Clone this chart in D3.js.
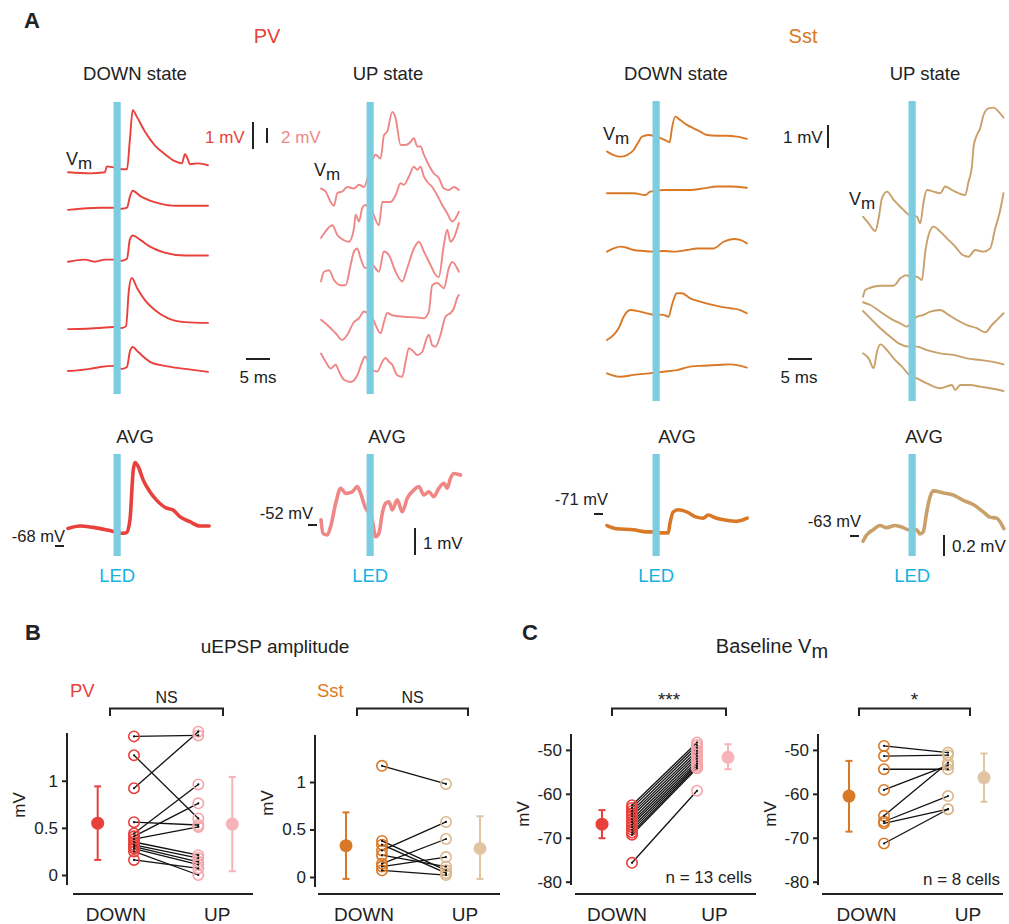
<!DOCTYPE html>
<html>
<head>
<meta charset="utf-8">
<script src="https://cdn.jsdelivr.net/npm/d3@7"></script>
<style>
body { margin: 0; background: #fff; }
text { font-family: "Liberation Sans", Arial, sans-serif; fill: #222; }
</style>
</head>
<body>
<div id="fig"></div>
<script>
// ---- data (ms, mV) ----
var led = [9.5, 11.0];
var traceSpan = [0, 29.2];

// PV DOWN state single trials: [ms, mV above own baseline]
var pvDownOffsets = [8.2, 6.85, 4.93, 2.44, 0.89];
var pvDownTraces = [
  [[0,0],[4.6,-0.04],[7.7,0],[8.1,0.22],[9.2,0.19],[11.25,0.11],[12.3,0.11],[12.9,1.2],[13.5,2.3],[14.4,2.04],[16,1.52],[18.1,1.0],[20.2,0.67],[22.3,0.41],[23.75,0.33],[24.4,0.67],[25,0.48],[25.4,0.3],[27.1,0.33],[29.2,0.26]],
  [[0,-0.04],[6.7,0.04],[9.4,0.04],[11.25,0],[12.3,0.04],[12.9,0.44],[13.5,0.67],[15,0.48],[17.1,0.3],[19.2,0.19],[22.3,0.11],[29.2,0.11]],
  [[0,-0.04],[3.5,0.04],[5.6,-0.04],[7.7,0.04],[9.4,0.04],[11.25,0],[12.3,0.07],[12.9,0.78],[13.5,0.93],[15,0.78],[17.1,0.52],[20.2,0.3],[24.4,0.19],[29.2,0.19]],
  [[0,-0.04],[6.7,0],[9.4,0.04],[11.25,0],[12.1,0.07],[12.7,1.41],[13.3,1.85],[14.4,1.48],[16,1.04],[18.1,0.67],[20.8,0.37],[24.4,0.22],[29.2,0.19]],
  [[0,-0.04],[4.6,0.04],[6.7,0.11],[9.4,0.15],[11.25,0.04],[12.3,0.11],[12.9,0.67],[13.5,0.85],[14.6,0.67],[17.1,0.3],[20.2,0.15],[24.4,0.04],[29.2,-0.07]]
];

// PV UP state single trials (stacked mV)
var pvUpTraces = [
  [[0,27.4],[0.97,27.0],[2.01,25.6],[2.71,25.1],[3.4,26.8],[4.44,27.0],[5.49,27.6],[6.88,27.4],[7.92,27.9],[8.96,27.6],[10.69,31.2],[11.39,31.9],[12.43,31.4],[13.13,34.5],[13.82,35.0],[14.86,37.6],[15.56,36.8],[16.6,33.2],[17.64,33.2],[18.68,33.6],[19.38,34.1],[20.07,33.0],[20.76,33.0],[21.46,31.9],[22.5,30.5],[23.54,29.4],[24.58,28.8],[25.63,27.4],[26.67,27.2],[27.71,27.6],[28.75,27.2]],
  [[0,20.8],[0.63,21.4],[2.36,22.5],[3.4,21.2],[4.79,20.5],[5.83,20.3],[6.88,22.1],[7.22,23.9],[7.92,23.0],[8.61,24.8],[9.17,25.2],[10.69,24.3],[12.08,22.5],[12.78,25.6],[14.51,25.6],[15.56,26.5],[16.6,28.1],[17.29,27.9],[18.33,29.0],[19.38,30.3],[20.07,29.9],[20.76,30.3],[21.46,29.0],[22.15,28.3],[23.19,27.6],[24.24,26.5],[25.28,25.2],[26.32,24.1],[27.36,23.0],[28.06,23.4],[28.75,24.3]],
  [[0,15.0],[0.63,16.3],[1.67,16.5],[2.71,15.2],[4.1,14.5],[5.14,14.5],[6.18,17.2],[6.88,19.0],[7.57,19.4],[8.26,18.1],[9.17,16.8],[10.69,17.2],[12.08,16.3],[13.13,19.0],[14.17,18.5],[15.56,16.3],[16.94,15.0],[17.99,16.8],[19.38,19.4],[20.42,20.3],[21.46,19.0],[22.85,17.2],[23.89,15.9],[24.58,15.6],[25.63,19.9],[26.32,21.9],[27.01,20.3],[27.71,20.8],[28.75,22.8]],
  [[0,9.9],[1.32,9.2],[3.06,8.1],[4.44,7.2],[5.49,7.9],[6.88,9.6],[7.92,10.1],[8.96,11.0],[10.69,10.1],[12.43,8.1],[13.13,9.6],[13.82,10.8],[14.86,10.5],[17.29,10.3],[20.07,10.2],[21.46,10.1],[22.5,11.0],[23.19,14.5],[24.24,14.8],[25.63,14.1],[26.67,16.8],[27.36,17.6],[28.75,16.3]],
  [[0,5.4],[0.97,4.3],[2.01,3.4],[3.06,3.9],[3.75,3.0],[4.79,1.9],[6.18,1.6],[7.57,2.5],[8.61,4.3],[9.17,5.0],[10.69,3.2],[11.74,3.0],[12.78,4.3],[13.47,4.8],[14.17,4.3],[14.86,3.9],[15.9,2.5],[16.94,2.3],[17.64,4.3],[18.33,6.1],[19.38,5.6],[20.07,5.2],[21.11,5.6],[21.81,7.0],[22.5,7.9],[23.19,6.5],[23.89,6.3],[24.93,7.9],[25.97,10.3],[27.01,10.8],[27.71,11.4],[28.4,12.8],[28.75,13.2]]
];

// Sst DOWN state single trials (stacked mV)
var sstDownTraces = [
  [[0,10.8],[1.39,10.65],[2.78,10.58],[4.17,10.65],[5.56,10.87],[6.6,11.23],[7.29,11.45],[8.68,11.52],[9.72,11.49],[11.25,11.38],[12.15,11.3],[13.06,11.2],[13.54,11.81],[14.24,12.32],[15.28,12.17],[16.67,11.96],[18.06,11.81],[19.44,11.67],[20.83,11.52],[22.92,11.49],[25,11.49],[27.08,11.45],[29.17,11.35]],
  [[0,8.99],[3.47,8.99],[5.56,8.99],[7.99,8.91],[9.03,9.06],[11.81,9.13],[14.58,9.13],[17.36,9.13],[20.14,9.2],[22.92,9.28],[25.69,9.28],[29.17,9.23]],
  [[0,6.45],[1.39,6.59],[2.78,6.67],[4.17,6.62],[5.56,6.52],[7.64,6.48],[9.38,6.45],[11.81,6.48],[13.89,6.45],[16.67,6.52],[18.75,6.59],[22.22,6.59],[24.31,6.88],[26.39,7.0],[27.78,6.96],[29.17,6.81]],
  [[0,2.61],[1.39,2.83],[2.43,3.12],[3.47,3.62],[4.86,3.91],[6.94,3.84],[9.38,3.72],[11.81,3.7],[12.85,3.62],[13.54,4.13],[14.58,4.64],[15.63,4.64],[17.36,4.42],[19.44,4.28],[21.53,4.16],[23.61,4.06],[25.69,3.99],[27.78,3.91],[29.17,3.77]],
  [[0,1.16],[2.78,1.01],[5.56,1.09],[8.68,1.16],[11.81,1.23],[14.58,1.3],[17.36,1.45],[20.14,1.49],[22.92,1.52],[25.69,1.55],[29.17,1.41]]
];

// Sst UP state single trials (stacked mV)
var sstUpTraces = [
  [[0,7.97],[1.18,7.68],[2.57,7.35],[3.26,7.9],[3.96,8.77],[5,9.06],[6.39,8.7],[8.13,8.33],[9.65,8.04],[11.25,7.97],[11.94,7.68],[12.64,8.62],[13.33,9.13],[14.72,9.06],[16.11,8.99],[17.15,9.28],[18.54,9.13],[19.93,8.99],[21.32,8.91],[22.01,9.49],[22.71,10.14],[23.06,11.01],[23.75,11.52],[24.44,11.81],[25.14,12.39],[26.18,12.68],[27.22,12.71],[28.26,12.54],[29.31,12.28]],
  [[0,4.49],[0.49,4.78],[1.53,4.88],[3.61,4.97],[6.39,4.97],[7.78,5.29],[9.17,5.43],[9.65,5.36],[11.25,5.36],[12.29,5.22],[12.99,6.45],[13.68,7.17],[14.72,7.54],[16.11,7.32],[17.5,7.03],[19.24,6.67],[20.63,6.33],[22.01,6.23],[23.4,6.52],[25.14,6.45],[26.53,6.59],[27.57,7.46],[28.47,8.12],[29.31,8.99]],
  [[0,4.25],[1.53,4.13],[3.61,3.84],[5.69,3.55],[7.78,3.33],[9.17,3.19],[9.65,3.26],[11.25,3.62],[12.64,3.7],[14.03,3.84],[16.11,3.91],[17.85,3.7],[19.58,3.48],[21.67,3.26],[23.75,3.12],[25.49,2.94],[26.88,3.26],[28.26,3.55],[29.31,3.77]],
  [[0,3.87],[1.53,3.55],[3.61,3.12],[5.69,2.75],[7.43,2.46],[9.65,2.32],[11.25,2.32],[13.33,2.17],[16.11,2.03],[18.89,1.96],[21.67,1.81],[24.44,1.74],[26.88,1.67],[29.31,1.55]],
  [[0,2.03],[1.18,1.81],[2.22,1.38],[2.92,2.1],[3.61,2.42],[5,2.17],[6.39,1.81],[8.13,1.45],[9.65,1.09],[11.25,0.94],[13.33,0.72],[16.11,0.51],[18.54,0.65],[19.24,0.43],[20.28,0.65],[22.36,0.65],[24.44,0.58],[26.53,0.51],[29.31,0.39]]
];

// averages (absolute mV)
var pvDownAvg = [[0,-67.35],[2.5,-67.26],[5.28,-67.31],[8.75,-67.43],[9.79,-67.47],[10.97,-67.53],[12.22,-67.51],[12.92,-67.04],[13.61,-65.19],[13.96,-64.91],[14.65,-65.06],[15.69,-65.56],[17.08,-65.99],[18.47,-66.3],[20.56,-66.6],[21.94,-66.67],[23.33,-66.91],[25.42,-67.1],[27.5,-67.26],[29.44,-67.26]];
var pvUpAvg = [[0,-51.81],[0.42,-52.31],[1.32,-52.37],[2.01,-52.06],[3.06,-51.2],[4.1,-50.64],[5.14,-50.83],[6.53,-50.77],[7.57,-50.58],[8.26,-50.83],[9.17,-51.32],[10.69,-51.81],[11.39,-52.43],[12.08,-52.31],[12.78,-51.57],[13.47,-51.2],[14.17,-51.14],[14.86,-51.44],[15.9,-51.07],[16.94,-51.51],[17.99,-51.01],[19.38,-50.7],[20.42,-50.58],[21.46,-50.89],[22.5,-50.77],[23.54,-50.95],[24.58,-50.64],[25.63,-50.46],[26.32,-50.64],[27.01,-50.27],[27.71,-50.09],[29.1,-50.15]];
var sstDownAvg = [[0,-71.11],[2.01,-71.14],[5.49,-71.15],[8.26,-71.17],[9.51,-71.17],[11.18,-71.18],[12.78,-71.18],[13.13,-71.09],[13.82,-70.98],[14.86,-70.96],[16.6,-70.98],[18.68,-71.03],[20.07,-71.04],[21.11,-71.01],[22.85,-71.04],[24.93,-71.06],[27.01,-71.07],[29.24,-71.04]];
var sstUpAvg = [[0,-63.05],[0.76,-62.99],[2.15,-62.94],[3.54,-62.9],[4.93,-62.92],[6.67,-62.9],[8.4,-62.92],[9.44,-62.94],[11.18,-62.94],[11.88,-62.98],[12.57,-62.96],[13.26,-62.78],[13.96,-62.63],[14.65,-62.57],[16.74,-62.59],[18.82,-62.61],[20.9,-62.66],[22.99,-62.7],[25.07,-62.77],[26.46,-62.82],[27.85,-62.83],[29.38,-62.93]];
var avgBaselines = [-68, -52, -71, -63];

// B: uEPSP amplitude (mV), paired DOWN/UP per cell
var pvAmpDown = [1.47,1.27,0.92,0.56,0.44,0.41,0.38,0.35,0.32,0.30,0.28,0.25,0.16];
var pvAmpUp   = [1.48,0.60,1.52,0.53,0.96,0.76,0.51,0.21,0.18,0.14,0.11,0.00,0.07];
var pvAmpMean = [0.55, 0.54];
var pvAmpErr  = [[0.16, 0.94], [0.04, 1.04]];
var sstAmpDown = [1.17,0.38,0.34,0.28,0.23,0.14,0.11,0.07];
var sstAmpUp   = [0.98,0.07,0.04,0.58,0.11,0.40,0.21,0.02];
var sstAmpMean = [0.33, 0.30];
var sstAmpErr  = [[-0.02, 0.68], [-0.02, 0.64]];

// C: baseline Vm (mV)
var pvVmDown = [-62.6,-63.2,-63.9,-64.5,-65.1,-65.8,-66.4,-67.0,-67.6,-68.2,-68.8,-69.3,-75.7];
var pvVmUp   = [-48.3,-48.9,-49.5,-50.2,-50.8,-51.4,-52.0,-52.6,-53.1,-53.5,-53.9,-54.2,-59.3];
var pvVmMean = [-66.9, -51.7];
var pvVmErr  = [[-70.1, -63.7], [-54.4, -48.7]];
var sstVmDown = [-49.1,-51.4,-54.4,-59.1,-65.0,-66.3,-66.7,-71.3];
var sstVmUp   = [-50.6,-51.2,-54.4,-53.5,-52.9,-60.5,-63.5,-63.5];
var sstVmMean = [-60.5, -56.3];
var sstVmErr  = [[-68.6, -52.5], [-61.8, -50.8]];

var ampTicks = [0, 0.5, 1];
var vmTicks = [-80, -70, -60, -50];

// ---- styles ----
var col = {
  ink: "#222", pv: "#e8413c", pvUp: "#f08787", pvUpPt: "#f5a5aa", pvUpMean: "#f6b3b8",
  sst: "#d97826", sstUp: "#c9a06a", sstUpPt: "#dcb88e", sstUpMean: "#e3c4a2",
  led: "#7dcde1", ledText: "#17b1e2"
};

var svg = d3.select("#fig").append("svg").attr("width", 1009).attr("height", 924);

function label(x, y, txt, size, color, anchor, weight) {
  return svg.append("text").attr("x", x).attr("y", y)
    .attr("text-anchor", anchor || "start")
    .style("font-size", size + "px")
    .style("fill", color || col.ink)
    .style("font-weight", weight || "normal")
    .text(txt);
}

function vmLabel(x, y, size) {
  var t = svg.append("text").attr("x", x).attr("y", y).style("font-size", size + "px");
  t.append("tspan").text("V");
  t.append("tspan").attr("dy", 4).style("font-size", (size - 1) + "px").text("m");
}

function timeScale(x0) {
  return d3.scaleLinear().domain(traceSpan).range([x0, x0 + 140]);
}

function drawTraces(x, y, traces, offsets, color, sw) {
  var line = d3.line()
    .x(function(d) { return x(d[0]); })
    .y(function(d) { return y(d[1]); })
    .curve(d3.curveMonotoneX);
  svg.append("g").selectAll("path")
    .data(traces)
    .enter().append("path")
      .attr("d", function(d, i) {
        var o = offsets ? offsets[i] : 0;
        return line(d.map(function(p) { return [p[0], p[1] + o]; }));
      })
      .style("fill", "none")
      .style("stroke", color)
      .style("stroke-width", sw)
      .style("stroke-linejoin", "round")
      .style("stroke-linecap", "round");
}

function drawLed(x, y1, y2) {
  svg.append("rect")
    .attr("x", x(led[0])).attr("y", y1)
    .attr("width", x(led[1]) - x(led[0])).attr("height", y2 - y1)
    .style("fill", col.led);
}

function bar(x1, y1, x2, y2) {
  svg.append("line").attr("x1", x1).attr("y1", y1).attr("x2", x2).attr("y2", y2)
    .style("stroke", col.ink).style("stroke-width", 2);
}

// ---- panel A: single trials ----
var xPvD = timeScale(68), xPvU = timeScale(321), xSstD = timeScale(607), xSstU = timeScale(863);
var yPvD = d3.scaleLinear().domain([0, 10.8]).range([394, 102]);
var yPvU = d3.scaleLinear().domain([0, 38.93]).range([394, 102]);
var ySst = d3.scaleLinear().domain([0, 13]).range([400, 101]);

drawTraces(xPvD, yPvD, pvDownTraces, pvDownOffsets, col.pv, 1.9);
drawTraces(xPvU, yPvU, pvUpTraces, null, col.pvUp, 1.9);
drawTraces(xSstD, ySst, sstDownTraces, null, col.sst, 1.9);
drawTraces(xSstU, ySst, sstUpTraces, null, col.sstUp, 1.9);
drawLed(xPvD, 102, 394);
drawLed(xPvU, 102, 394);
drawLed(xSstD, 101, 401);
drawLed(xSstU, 101, 401);

label(24, 28, "A", 22, col.ink, "start", "bold");
label(267, 43, "PV", 20, col.pv, "middle");
label(803, 43, "Sst", 20, col.sst, "middle");
label(135, 80, "DOWN state", 18.5, col.ink, "middle");
label(388, 80, "UP state", 18.5, col.ink, "middle");
label(676, 80, "DOWN state", 18.5, col.ink, "middle");
label(925, 80, "UP state", 18.5, col.ink, "middle");

vmLabel(66, 165, 18);
vmLabel(314, 176, 18);
vmLabel(603, 140, 18);
vmLabel(849, 205, 18);

// scale bars
bar(253, 149, 253, 149 - (yPvD(0) - yPvD(1)));
bar(267, 143, 267, 143 - (yPvU(0) - yPvU(2)));
label(205, 143, "1 mV", 17, col.pv);
label(281, 143, "2 mV", 17, col.pvUp);
bar(246, 359, 246 + xPvD(5) - xPvD(0), 359);
label(258, 383, "5 ms", 17, col.ink, "middle");

bar(828, 148, 828, 148 - (ySst(0) - ySst(1)));
label(783, 143, "1 mV", 17);
bar(788, 359, 788 + xSstD(5) - xSstD(0), 359);
label(799, 383, "5 ms", 17, col.ink, "middle");

// ---- panel A: averages ----
var yAvg = [
  d3.scaleLinear().domain([-68, -64]).range([546, 438]),
  d3.scaleLinear().domain([-52, -48]).range([525, 417]),
  d3.scaleLinear().domain([-71, -70]).range([514, 409]),
  d3.scaleLinear().domain([-63, -62]).range([536, 431])
];
var avgX = [xPvD, xPvU, xSstD, xSstU];
var avgData = [pvDownAvg, pvUpAvg, sstDownAvg, sstUpAvg];
var avgCol = [col.pv, col.pvUp, col.sst, col.sstUp];
var avgTitleX = [135, 387, 677, 924];
var avgLabelPos = [[65, 542], [313, 519], [608, 505], [861, 527]];

avgData.forEach(function(d, i) {
  var x = avgX[i], y = yAvg[i];
  drawTraces(x, y, [d], null, avgCol[i], 3.6);
  drawLed(x, 454, 556);
  label(avgTitleX[i], 443, "AVG", 18.5, col.ink, "middle");
  label((x(led[0]) + x(led[1])) / 2, 582, "LED", 18.5, col.ledText, "middle");
  var x0 = x(0);
  bar(x0 - 13, y(avgBaselines[i]), x0 - 4, y(avgBaselines[i]));
  label(avgLabelPos[i][0], avgLabelPos[i][1], avgBaselines[i] + " mV", 16.5, col.ink, "end");
});

bar(415, 555, 415, 555 - (yAvg[1](-51) - yAvg[1](-50)) );
label(423, 549, "1 mV", 17);
bar(944, 556, 944, 556 - (yAvg[3](-63) - yAvg[3](-62.8)));
label(952, 552, "0.2 mV", 17);

// ---- panels B & C ----
function pairPanel(p) {
  var g = svg.append("g");
  var y = d3.scaleLinear().domain(p.dom).range(p.rng);

  g.append("line").attr("x1", p.ax).attr("x2", p.ax).attr("y1", p.top).attr("y2", p.bot)
    .style("stroke", col.ink).style("stroke-width", 2);
  var axis = g.append("g").attr("transform", "translate(" + p.ax + ",0)")
    .call(d3.axisLeft(y).tickValues(p.ticks).tickSize(5).tickPadding(4)
      .tickFormat(function(d) { return String(d); }));
  axis.select(".domain").remove();
  axis.selectAll("line").style("stroke", col.ink).style("stroke-width", 2);
  axis.selectAll("text").style("font-size", "17px");

  g.append("text")
    .attr("transform", "translate(" + (p.ax - 42) + "," + p.mvY + ") rotate(-90)")
    .attr("text-anchor", "middle").style("font-size", "17px").text("mV");

  g.append("line").attr("x1", p.xAxis[0]).attr("x2", p.xAxis[1]).attr("y1", 894).attr("y2", 894)
    .style("stroke", col.ink).style("stroke-width", 2);
  g.append("text").attr("x", (p.xs[0] + p.xs[1]) / 2).attr("y", 921).attr("text-anchor", "middle")
    .style("font-size", "19px").text("DOWN");
  g.append("text").attr("x", (p.xs[2] + p.xs[3]) / 2 + 2).attr("y", 921).attr("text-anchor", "middle")
    .style("font-size", "19px").text("UP");

  g.append("path")
    .attr("d", "M" + p.bracket[0] + "," + 716 + "V708.5H" + p.bracket[1] + "V716")
    .style("fill", "none").style("stroke", col.ink).style("stroke-width", 2);
  g.append("text").attr("x", (p.bracket[0] + p.bracket[1]) / 2).attr("y", p.sigY)
    .attr("text-anchor", "middle").style("font-size", p.sigSize + "px").text(p.sig);

  var pairs = p.down.map(function(d, i) { return [d, p.up[i]]; });
  g.selectAll(".pair").data(pairs).enter().append("line")
    .attr("class", "pair")
    .attr("x1", p.xs[1]).attr("y1", function(d) { return y(d[0]); })
    .attr("x2", p.xs[2]).attr("y2", function(d) { return y(d[1]); })
    .style("stroke", "#111").style("stroke-width", 1.3);

  [[p.down, p.xs[1], p.colors[1]], [p.up, p.xs[2], p.colors[2]]].forEach(function(s) {
    g.append("g").selectAll("circle").data(s[0]).enter().append("circle")
      .attr("cx", s[1]).attr("cy", function(d) { return y(d); }).attr("r", 5.2)
      .style("fill", "none").style("stroke", s[2]).style("stroke-width", 1.6);
    g.append("g").selectAll("circle").data(s[0]).enter().append("circle")
      .attr("cx", s[1]).attr("cy", function(d) { return y(d); }).attr("r", 1.1)
      .style("fill", "#111");
  });

  [[0, p.xs[0], p.colors[0]], [1, p.xs[3], p.colors[3]]].forEach(function(s) {
    var e = p.err[s[0]];
    g.append("line").attr("x1", s[1]).attr("x2", s[1]).attr("y1", y(e[0])).attr("y2", y(e[1]))
      .style("stroke", s[2]).style("stroke-width", 2);
    e.forEach(function(v) {
      g.append("line").attr("x1", s[1] - 3.5).attr("x2", s[1] + 3.5).attr("y1", y(v)).attr("y2", y(v))
        .style("stroke", s[2]).style("stroke-width", 2);
    });
    g.append("circle").attr("cx", s[1]).attr("cy", y(p.mean[s[0]])).attr("r", 6.5).style("fill", s[2]);
  });

  if (p.n) {
    g.append("text").attr("x", p.n[0]).attr("y", p.n[1]).attr("text-anchor", "end")
      .style("font-size", "17px").text(p.n[2]);
  }
}

label(25, 640, "B", 22, col.ink, "start", "bold");
label(522, 640, "C", 22, col.ink, "start", "bold");
label(275, 653, "uEPSP amplitude", 19, col.ink, "middle");
var ct = svg.append("text").attr("x", 772).attr("y", 653).attr("text-anchor", "middle").style("font-size", "20px");
ct.append("tspan").text("Baseline V");
ct.append("tspan").attr("dy", 5).text("m");
label(70, 697, "PV", 18.5, col.pv);
label(317, 697, "Sst", 18.5, col.sst);

pairPanel({
  dom: [0, 1], rng: [875, 780.7], ax: 67, top: 733, bot: 885, mvY: 805, ticks: ampTicks,
  xs: [97.7, 134, 198.3, 232.3], xAxis: [73, 253], bracket: [110, 223], sig: "NS", sigY: 703, sigSize: 16,
  down: pvAmpDown, up: pvAmpUp, mean: pvAmpMean, err: pvAmpErr,
  colors: [col.pv, col.pv, col.pvUpPt, col.pvUpMean]
});
pairPanel({
  dom: [0, 1], rng: [877, 782], ax: 315, top: 735, bot: 887, mvY: 803, ticks: ampTicks,
  xs: [346, 382, 446, 480], xAxis: [318, 500], bracket: [357, 468], sig: "NS", sigY: 703, sigSize: 16,
  down: sstAmpDown, up: sstAmpUp, mean: sstAmpMean, err: sstAmpErr,
  colors: [col.sst, col.sst, col.sstUpPt, col.sstUpMean]
});
pairPanel({
  dom: [-80, -50], rng: [881.7, 749.9], ax: 571, top: 734, bot: 885, mvY: 814, ticks: vmTicks,
  xs: [602, 632, 697, 728], xAxis: [575, 756], bracket: [612, 726], sig: "***", sigY: 706, sigSize: 19,
  down: pvVmDown, up: pvVmUp, mean: pvVmMean, err: pvVmErr,
  colors: [col.pv, col.pv, col.pvUpPt, col.pvUpMean], n: [752, 883, "n = 13 cells"]
});
pairPanel({
  dom: [-80, -50], rng: [881.7, 749.9], ax: 818, top: 734, bot: 885, mvY: 814, ticks: vmTicks,
  xs: [849, 884, 948, 984], xAxis: [822, 1003], bracket: [859, 970], sig: "*", sigY: 706, sigSize: 19,
  down: sstVmDown, up: sstVmUp, mean: sstVmMean, err: sstVmErr,
  colors: [col.sst, col.sst, col.sstUpPt, col.sstUpMean], n: [1000, 885, "n = 8 cells"]
});
</script>
</body>
</html>
